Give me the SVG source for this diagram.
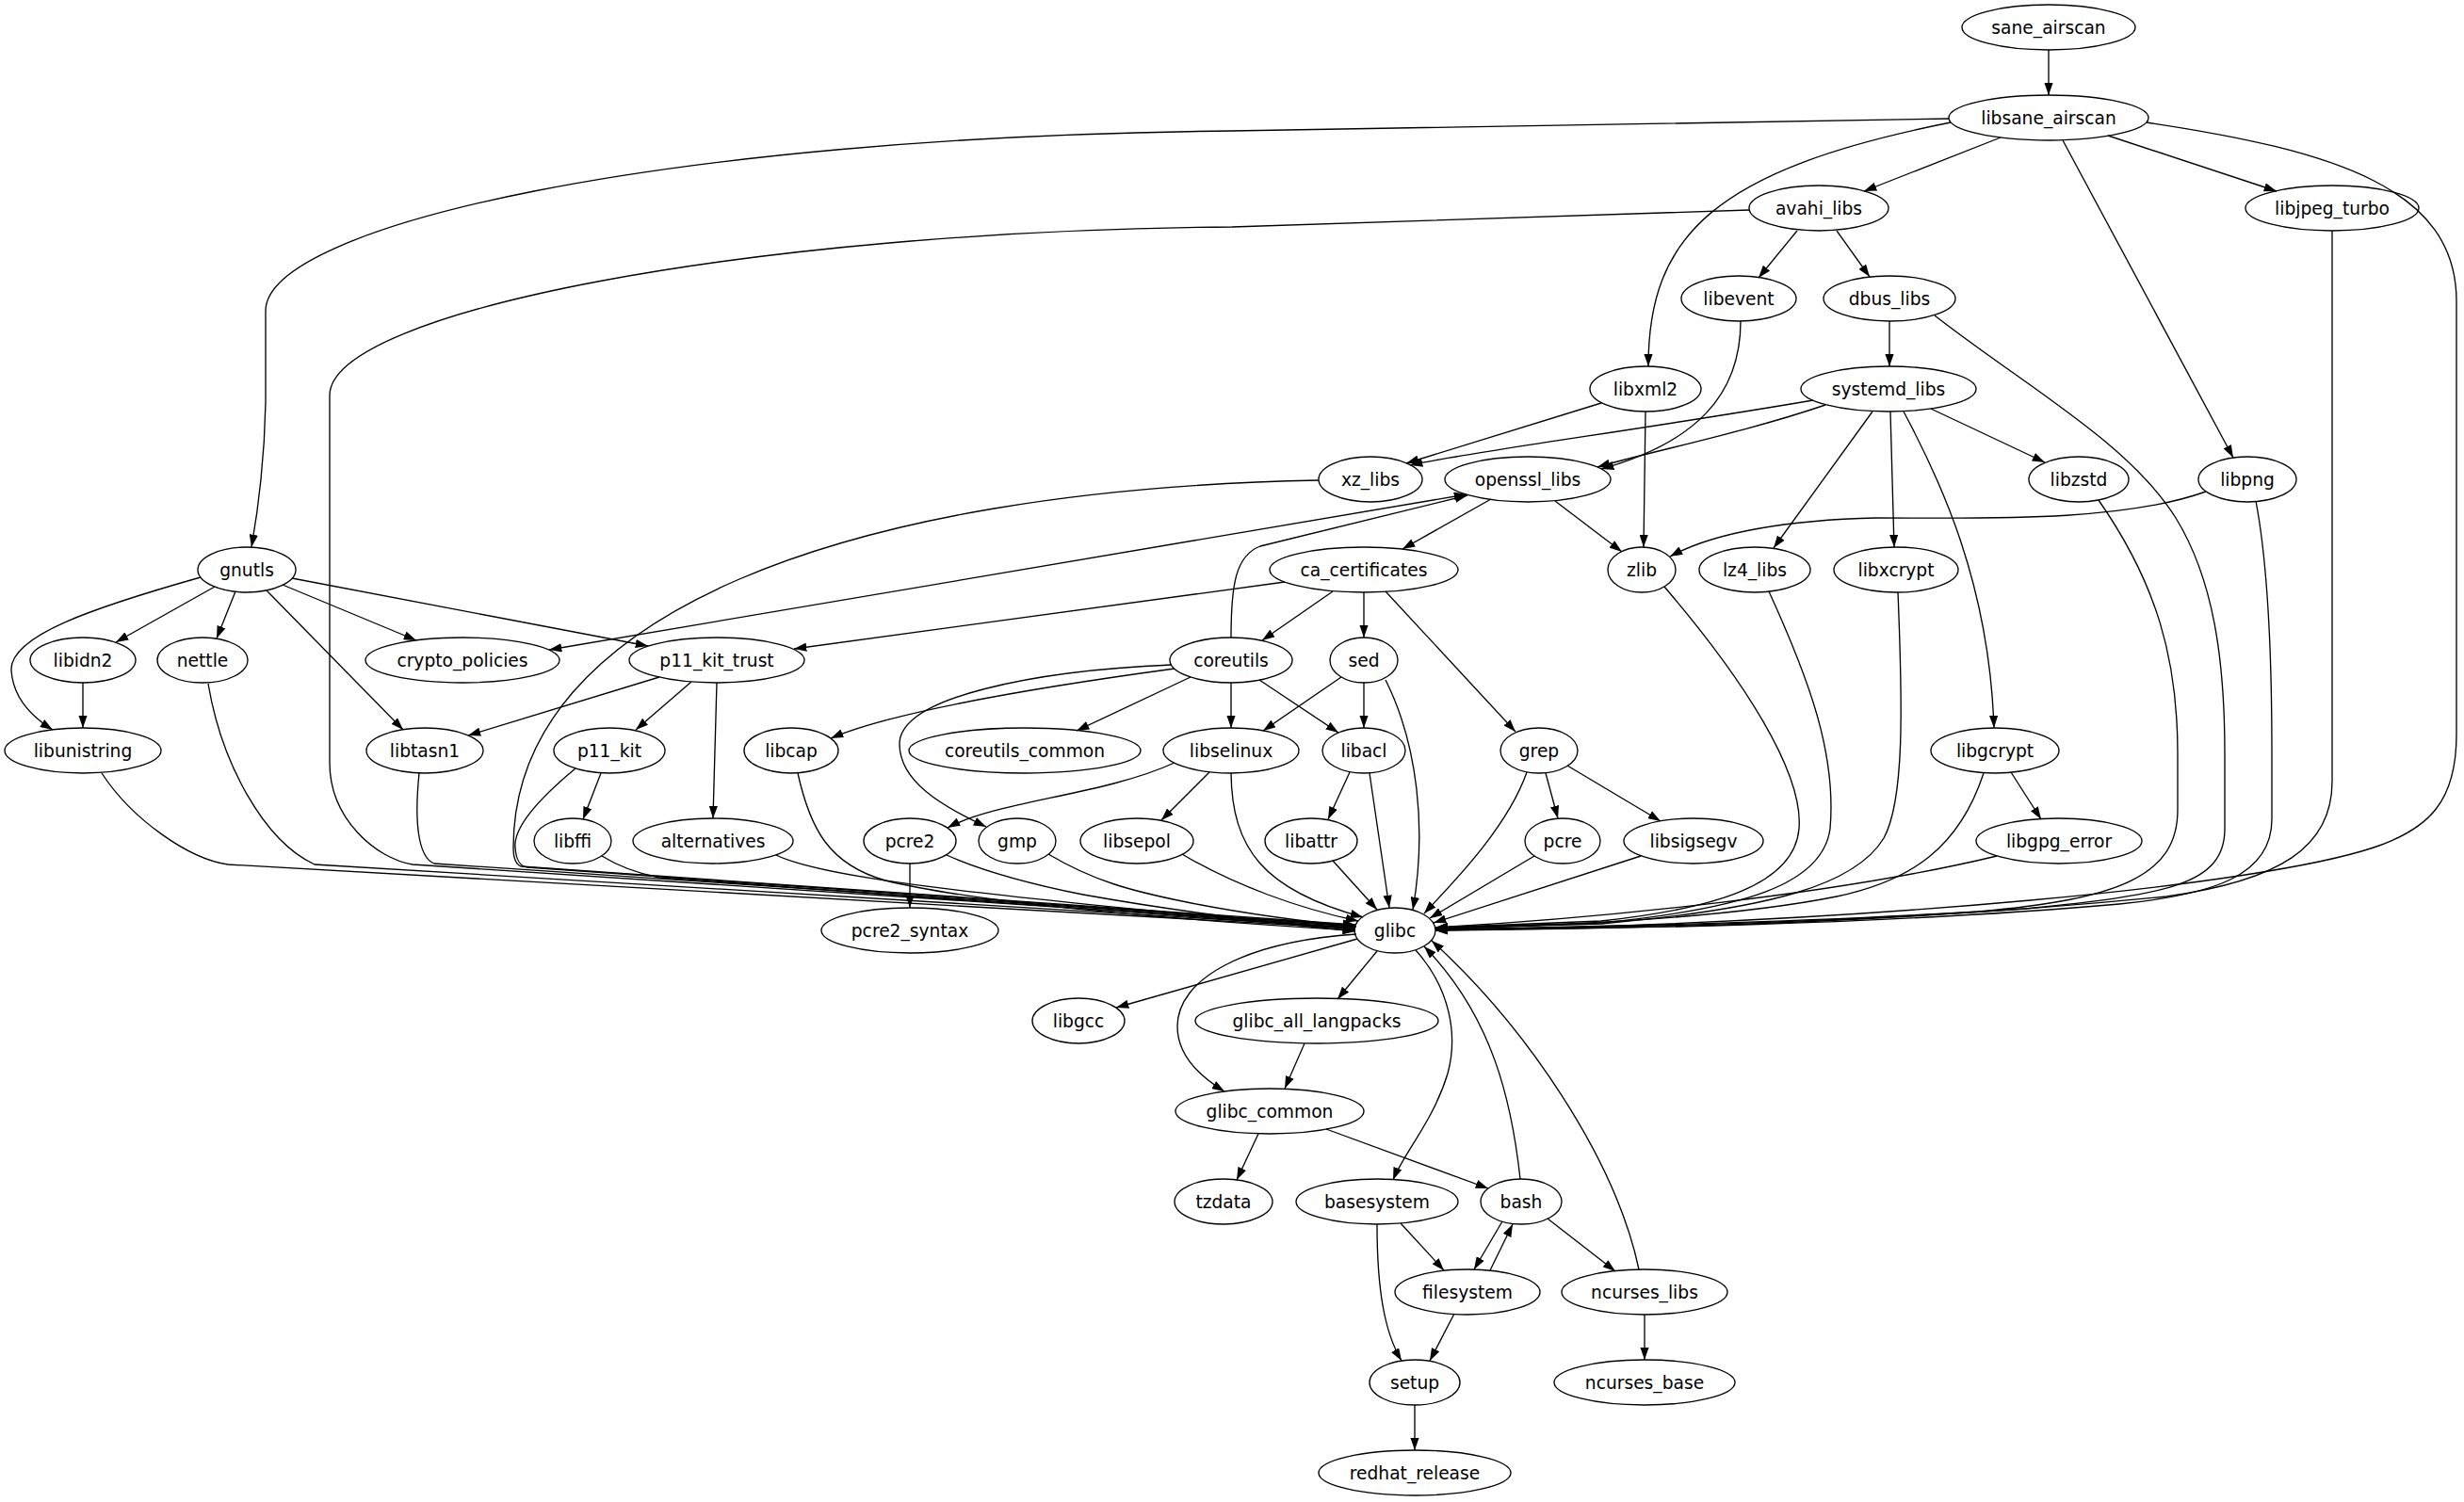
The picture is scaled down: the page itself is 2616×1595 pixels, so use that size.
<svg xmlns="http://www.w3.org/2000/svg" width="2616" height="1595" viewBox="0 0 2616 1595">
<style>
.n ellipse{fill:none;stroke:#000;stroke-width:1.33}
.n text{font-family:"DejaVu Sans","Liberation Sans",sans-serif;font-size:18.67px;text-anchor:middle;fill:#000}
#edges path{fill:none;stroke:#000;stroke-width:1.33;marker-end:url(#ah)}
#edges path.both{marker-start:url(#ahs)}
</style>
<defs>
<marker id="ah" viewBox="0 0 13.33 9.33" refX="13.33" refY="4.67" markerWidth="13.33" markerHeight="9.33" markerUnits="userSpaceOnUse" orient="auto"><path d="M0,0 L13.33,4.67 L0,9.33 z" fill="#000"/></marker>
<marker id="ahs" viewBox="0 0 13.33 9.33" refX="13.33" refY="4.67" markerWidth="13.33" markerHeight="9.33" markerUnits="userSpaceOnUse" orient="auto-start-reverse"><path d="M0,0 L13.33,4.67 L0,9.33 z" fill="#000"/></marker>
</defs>
<rect width="2616" height="1595" fill="#fff"/>
<g id="edges">
<path d="M2175,53 L2175,101"/>
<path d="M2069,126 L1308,139 C700,145 282,240 282,330 L282,427 C281,480 276,530 267,581"/>
<path d="M2124,146 L1979,203"/>
<path d="M2071,130 C1820,180 1750,250 1750,389"/>
<path d="M2190,149 L2371,486"/>
<path d="M2238,144 L2417,203"/>
<path d="M2279,130 C2480,160 2608,200 2608,320 L2608,780 C2608,850 2580,880 2520,900 C2400,940 2000,980 1524,988"/>
<path d="M1857,223 L1308,241 C800,245 350,330 350,420 L350,810 C350,870 400,912 438,918 L1439,984"/>
<path d="M1908,245 L1867,295"/>
<path d="M1950,245 L1985,294"/>
<path d="M1848,341 C1848,420 1800,470 1700,498"/>
<path d="M2006,341 L2006,389"/>
<path d="M2054,335 C2150,410 2260,470 2310,550 C2350,615 2362,700 2362,800 L2362,880 C2362,940 2300,950 2150,965 C1900,982 1700,985 1524,987"/>
<path d="M1700,428 L1493,492"/>
<path d="M1747,437 L1745,581"/>
<path d="M1925,425 C1750,455 1560,480 1497,494"/>
<path d="M1938,430 C1850,460 1750,480 1696,496"/>
<path d="M1988,437 L1883,582"/>
<path d="M2007,437 L2011,581"/>
<path d="M2021,437 C2060,510 2112,620 2117,773"/>
<path d="M2050,434 L2171,491"/>
<path d="M1400,510 C900,520 545,650 545,900 C545,912 548,918 553,920 L1439,982"/>
<path d="M1583,530 L1489,583"/>
<path d="M1651,532 L1722,586"/>
<path class="both" d="M583,690 L1557,525"/>
<path d="M1307,677 C1307,620 1312,590 1338,580 L1558,526"/>
<path d="M1364,618 L843,689"/>
<path d="M1415,628 L1340,680"/>
<path d="M1448,629 L1448,677"/>
<path d="M1471,628 L1609,777"/>
<path d="M213,613 C100,645 10,675 12,712 C14,742 35,762 56,775"/>
<path d="M228,623 L123,682"/>
<path d="M250,628 L230,678"/>
<path d="M283,627 L428,775"/>
<path d="M300,621 L442,680"/>
<path d="M310,614 L688,686"/>
<path d="M88,725 L88,773"/>
<path d="M108,821 C140,870 200,912 242,918 L1439,986"/>
<path d="M221,726 C235,810 280,893 334,918 L1439,985"/>
<path d="M445,821 C440,870 443,910 461,917 L1439,983"/>
<path d="M700,719 L497,781"/>
<path d="M734,724 L675,775"/>
<path d="M761,725 L757,869"/>
<path d="M638,821 L619,870"/>
<path d="M611,816 C570,850 545,880 547,900 C548,914 552,920 560,921 L1439,983"/>
<path d="M639,909 C660,922 680,928 700,932 L1439,986"/>
<path d="M824,908 C870,930 1000,948 1439,987"/>
<path d="M1247,710 C1100,730 950,755 882,784"/>
<path d="M1244,706 C1100,712 955,740 955,790 C955,830 1000,856 1047,878"/>
<path d="M1264,719 L1143,776"/>
<path d="M1307,725 L1307,773"/>
<path d="M1337,722 L1421,778"/>
<path d="M847,821 C860,880 880,918 940,935 C1050,962 1300,980 1439,988"/>
<path d="M1247,810 C1170,845 1060,850 1006,879"/>
<path d="M1284,820 L1233,871"/>
<path d="M1307,821 C1308,900 1340,945 1447,974"/>
<path d="M966,917 L966,964"/>
<path d="M1005,908 C1050,928 1100,940 1150,950 C1250,968 1350,980 1439,989"/>
<path d="M1113,907 C1160,935 1200,946 1260,958 C1330,972 1400,980 1440,984"/>
<path d="M1255,907 C1310,940 1380,965 1442,978"/>
<path d="M1424,719 L1341,776"/>
<path d="M1448,725 L1448,773"/>
<path d="M1471,722 C1505,790 1515,880 1500,966"/>
<path d="M1433,820 L1410,870"/>
<path d="M1454,821 L1475,964"/>
<path d="M1415,914 L1462,966"/>
<path d="M1641,821 L1654,869"/>
<path d="M1664,813 L1763,872"/>
<path d="M1621,820 C1600,880 1540,940 1512,970"/>
<path d="M1629,909 L1518,975"/>
<path d="M1742,909 L1522,980"/>
<path d="M1767,623 C1850,720 1915,820 1910,880 C1905,940 1820,965 1700,978 L1524,985"/>
<path d="M1878,628 C1920,720 1950,800 1943,880 C1935,940 1850,965 1700,980 L1524,985"/>
<path d="M2015,629 C2020,750 2022,850 2000,890 C1970,940 1880,965 1700,981 L1524,986"/>
<path d="M2135,820 L2167,870"/>
<path d="M2106,821 C2080,900 2030,935 1950,952 C1850,972 1700,982 1524,986"/>
<path d="M2120,909 C1950,950 1700,975 1524,985"/>
<path d="M2228,531 C2290,620 2312,700 2312,800 L2312,860 C2312,930 2250,955 2100,968 C1900,980 1700,984 1524,987"/>
<path d="M2342,522 C2250,555 2100,550 1992,550 C1900,552 1820,565 1773,591"/>
<path d="M2395,532 C2408,600 2412,700 2412,800 L2412,870 C2412,930 2350,950 2250,960 C2000,982 1700,987 1524,987"/>
<path d="M2476,245 L2476,830 C2476,900 2420,935 2300,952 C2000,982 1700,987 1524,988"/>
<path d="M1441,997 L1185,1070"/>
<path d="M1462,1010 L1420,1061"/>
<path d="M1440,992 C1320,1000 1250,1040 1250,1090 C1250,1120 1272,1142 1300,1159"/>
<path d="M1503,1009 C1540,1050 1548,1100 1537,1140 C1522,1190 1490,1225 1479,1253"/>
<path d="M1385,1108 L1364,1156"/>
<path d="M1336,1204 L1313,1253"/>
<path d="M1408,1199 L1580,1262"/>
<path d="M1614,1252 C1605,1170 1585,1080 1512,1005"/>
<path d="M1740,1348 C1715,1230 1620,1090 1520,999"/>
<path d="M1595,1297 L1565,1348"/>
<path d="M1582,1349 L1606,1300"/>
<path d="M1643,1294 L1715,1350"/>
<path d="M1487,1299 L1533,1349"/>
<path d="M1462,1300 C1462,1370 1470,1415 1488,1445"/>
<path d="M1544,1395 L1518,1445"/>
<path d="M1746,1396 L1746,1444"/>
<path d="M1502,1492 L1502,1540"/>
</g>
<g id="sane_airscan" class="n"><ellipse cx="2175" cy="29" rx="92" ry="24"/><text x="2175" y="35.5">sane_airscan</text></g>
<g id="libsane_airscan" class="n"><ellipse cx="2175" cy="125" rx="106" ry="24"/><text x="2175" y="131.5">libsane_airscan</text></g>
<g id="avahi_libs" class="n"><ellipse cx="1931" cy="221" rx="74" ry="24"/><text x="1931" y="227.5">avahi_libs</text></g>
<g id="libjpeg_turbo" class="n"><ellipse cx="2476" cy="221" rx="92" ry="24"/><text x="2476" y="227.5">libjpeg_turbo</text></g>
<g id="libevent" class="n"><ellipse cx="1846" cy="317" rx="61" ry="24"/><text x="1846" y="323.5">libevent</text></g>
<g id="dbus_libs" class="n"><ellipse cx="2006" cy="317" rx="70" ry="24"/><text x="2006" y="323.5">dbus_libs</text></g>
<g id="libxml2" class="n"><ellipse cx="1747" cy="413" rx="59" ry="24"/><text x="1747" y="419.5">libxml2</text></g>
<g id="systemd_libs" class="n"><ellipse cx="2005" cy="413" rx="93" ry="24"/><text x="2005" y="419.5">systemd_libs</text></g>
<g id="xz_libs" class="n"><ellipse cx="1455" cy="509" rx="55" ry="24"/><text x="1455" y="515.5">xz_libs</text></g>
<g id="openssl_libs" class="n"><ellipse cx="1622" cy="509" rx="88" ry="24"/><text x="1622" y="515.5">openssl_libs</text></g>
<g id="libzstd" class="n"><ellipse cx="2207" cy="509" rx="53" ry="24"/><text x="2207" y="515.5">libzstd</text></g>
<g id="libpng" class="n"><ellipse cx="2386" cy="509" rx="52" ry="24"/><text x="2386" y="515.5">libpng</text></g>
<g id="gnutls" class="n"><ellipse cx="262" cy="605" rx="52" ry="24"/><text x="262" y="611.5">gnutls</text></g>
<g id="ca_certificates" class="n"><ellipse cx="1448" cy="605" rx="100" ry="24"/><text x="1448" y="611.5">ca_certificates</text></g>
<g id="zlib" class="n"><ellipse cx="1743" cy="605" rx="36" ry="24"/><text x="1743" y="611.5">zlib</text></g>
<g id="lz4_libs" class="n"><ellipse cx="1863" cy="605" rx="59" ry="24"/><text x="1863" y="611.5">lz4_libs</text></g>
<g id="libxcrypt" class="n"><ellipse cx="2013" cy="605" rx="66" ry="24"/><text x="2013" y="611.5">libxcrypt</text></g>
<g id="libidn2" class="n"><ellipse cx="88" cy="701" rx="56" ry="24"/><text x="88" y="707.5">libidn2</text></g>
<g id="nettle" class="n"><ellipse cx="215" cy="701" rx="48" ry="24"/><text x="215" y="707.5">nettle</text></g>
<g id="crypto_policies" class="n"><ellipse cx="491" cy="701" rx="103" ry="24"/><text x="491" y="707.5">crypto_policies</text></g>
<g id="p11_kit_trust" class="n"><ellipse cx="761" cy="701" rx="93" ry="24"/><text x="761" y="707.5">p11_kit_trust</text></g>
<g id="coreutils" class="n"><ellipse cx="1307" cy="701" rx="65" ry="24"/><text x="1307" y="707.5">coreutils</text></g>
<g id="sed" class="n"><ellipse cx="1448" cy="701" rx="36" ry="24"/><text x="1448" y="707.5">sed</text></g>
<g id="libunistring" class="n"><ellipse cx="88" cy="797" rx="83" ry="24"/><text x="88" y="803.5">libunistring</text></g>
<g id="libtasn1" class="n"><ellipse cx="451" cy="797" rx="62" ry="24"/><text x="451" y="803.5">libtasn1</text></g>
<g id="p11_kit" class="n"><ellipse cx="647" cy="797" rx="59" ry="24"/><text x="647" y="803.5">p11_kit</text></g>
<g id="libcap" class="n"><ellipse cx="840" cy="797" rx="50" ry="24"/><text x="840" y="803.5">libcap</text></g>
<g id="coreutils_common" class="n"><ellipse cx="1088" cy="797" rx="123" ry="24"/><text x="1088" y="803.5">coreutils_common</text></g>
<g id="libselinux" class="n"><ellipse cx="1307" cy="797" rx="72" ry="24"/><text x="1307" y="803.5">libselinux</text></g>
<g id="libacl" class="n"><ellipse cx="1448" cy="797" rx="44" ry="24"/><text x="1448" y="803.5">libacl</text></g>
<g id="grep" class="n"><ellipse cx="1634" cy="797" rx="41" ry="24"/><text x="1634" y="803.5">grep</text></g>
<g id="libgcrypt" class="n"><ellipse cx="2118" cy="797" rx="68" ry="24"/><text x="2118" y="803.5">libgcrypt</text></g>
<g id="libffi" class="n"><ellipse cx="608" cy="893" rx="41" ry="24"/><text x="608" y="899.5">libffi</text></g>
<g id="alternatives" class="n"><ellipse cx="757" cy="893" rx="85" ry="24"/><text x="757" y="899.5">alternatives</text></g>
<g id="pcre2" class="n"><ellipse cx="966" cy="893" rx="49" ry="24"/><text x="966" y="899.5">pcre2</text></g>
<g id="gmp" class="n"><ellipse cx="1080" cy="893" rx="41" ry="24"/><text x="1080" y="899.5">gmp</text></g>
<g id="libsepol" class="n"><ellipse cx="1207" cy="893" rx="60" ry="24"/><text x="1207" y="899.5">libsepol</text></g>
<g id="libattr" class="n"><ellipse cx="1392" cy="893" rx="49" ry="24"/><text x="1392" y="899.5">libattr</text></g>
<g id="pcre" class="n"><ellipse cx="1659" cy="893" rx="40" ry="24"/><text x="1659" y="899.5">pcre</text></g>
<g id="libsigsegv" class="n"><ellipse cx="1798" cy="893" rx="74" ry="24"/><text x="1798" y="899.5">libsigsegv</text></g>
<g id="libgpg_error" class="n"><ellipse cx="2186" cy="893" rx="88" ry="24"/><text x="2186" y="899.5">libgpg_error</text></g>
<g id="pcre2_syntax" class="n"><ellipse cx="966" cy="988" rx="94" ry="24"/><text x="966" y="994.5">pcre2_syntax</text></g>
<g id="glibc" class="n"><ellipse cx="1481" cy="988" rx="43" ry="24"/><text x="1481" y="994.5">glibc</text></g>
<g id="libgcc" class="n"><ellipse cx="1145" cy="1084" rx="49" ry="24"/><text x="1145" y="1090.5">libgcc</text></g>
<g id="glibc_all_langpacks" class="n"><ellipse cx="1398" cy="1084" rx="129" ry="24"/><text x="1398" y="1090.5">glibc_all_langpacks</text></g>
<g id="glibc_common" class="n"><ellipse cx="1348" cy="1180" rx="100" ry="24"/><text x="1348" y="1186.5">glibc_common</text></g>
<g id="tzdata" class="n"><ellipse cx="1299" cy="1276" rx="52" ry="24"/><text x="1299" y="1282.5">tzdata</text></g>
<g id="basesystem" class="n"><ellipse cx="1462" cy="1276" rx="86" ry="24"/><text x="1462" y="1282.5">basesystem</text></g>
<g id="bash" class="n"><ellipse cx="1615" cy="1276" rx="43" ry="24"/><text x="1615" y="1282.5">bash</text></g>
<g id="filesystem" class="n"><ellipse cx="1558" cy="1372" rx="77" ry="24"/><text x="1558" y="1378.5">filesystem</text></g>
<g id="ncurses_libs" class="n"><ellipse cx="1746" cy="1372" rx="88" ry="24"/><text x="1746" y="1378.5">ncurses_libs</text></g>
<g id="setup" class="n"><ellipse cx="1502" cy="1468" rx="48" ry="24"/><text x="1502" y="1474.5">setup</text></g>
<g id="ncurses_base" class="n"><ellipse cx="1746" cy="1468" rx="96" ry="24"/><text x="1746" y="1474.5">ncurses_base</text></g>
<g id="redhat_release" class="n"><ellipse cx="1502" cy="1564" rx="102" ry="24"/><text x="1502" y="1570.5">redhat_release</text></g>
</svg>
